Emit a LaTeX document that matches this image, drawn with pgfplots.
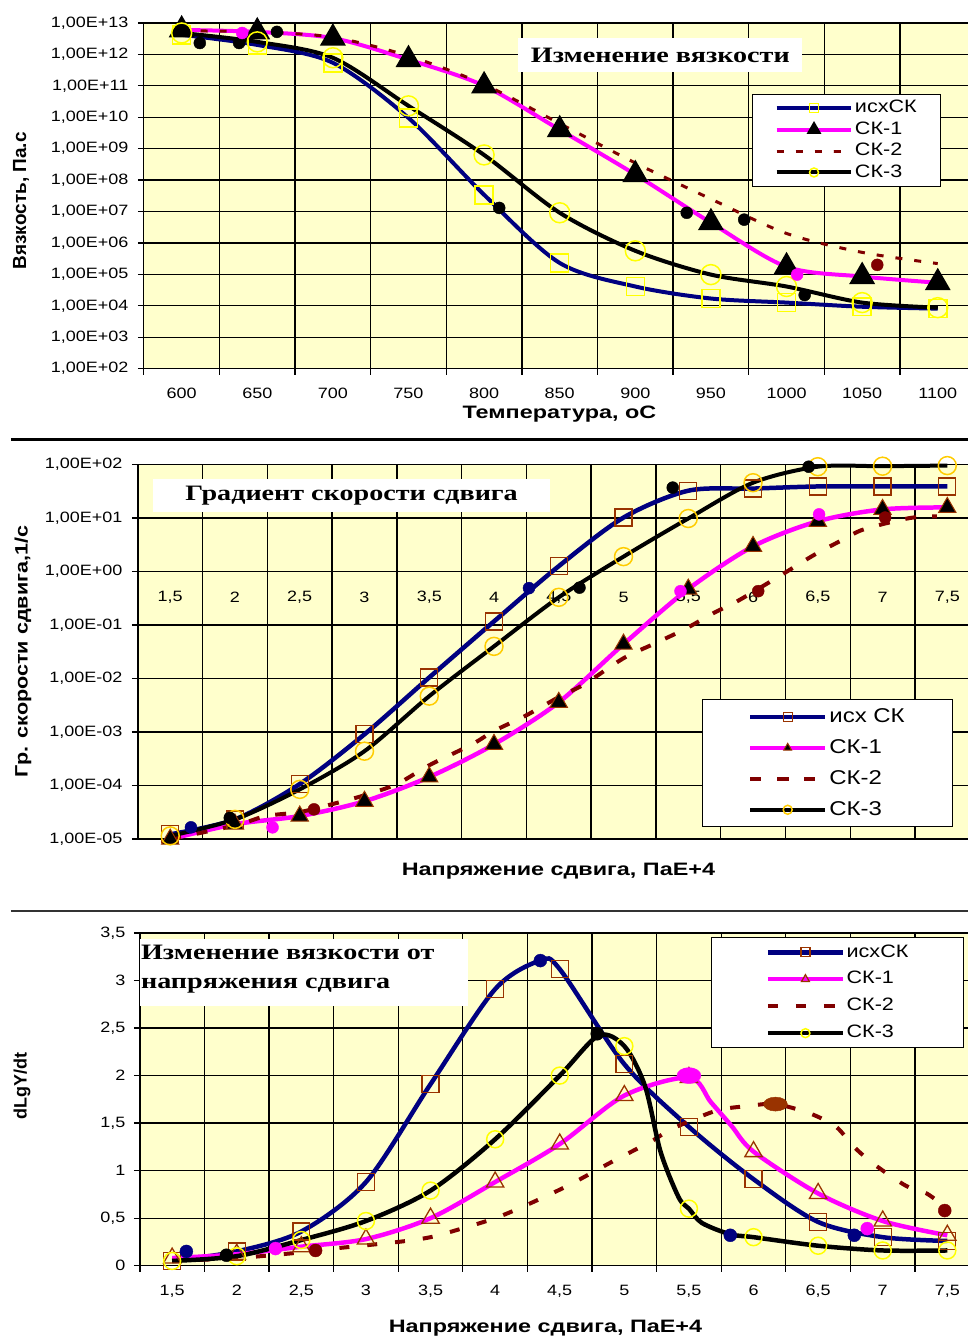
\documentclass[border=0pt]{standalone}
\usepackage{pgfplots}
\pgfplotsset{compat=1.18}
\usepackage{fontspec}
\setmainfont{Liberation Sans}[FakeStretch=1.2]
\newfontfamily\rotf{Liberation Sans}
\newfontfamily\rotm{Liberation Sans}[FakeStretch=1.2]
\newfontfamily\lblf{Liberation Sans}[FakeStretch=1.3]
\newfontfamily\ttlf{Liberation Serif}[FakeStretch=1.28]
\definecolor{bgY}{HTML}{FFFFCC}
\definecolor{navyC}{HTML}{000080}
\definecolor{magC}{HTML}{FF00FF}
\definecolor{brC}{HTML}{800000}
\definecolor{mkBr}{HTML}{993300}
\definecolor{mkY}{HTML}{FFFF00}
\definecolor{mkO}{HTML}{FFCC00}
\pgfplotsset{
  base/.style={
    scale only axis, clip=false,
    axis x line*=bottom, axis y line*=left,
    axis background/.style={fill=bgY},
    grid=major,
    major grid style={black, line width=1.3pt},
    axis line style={black, line width=1.3pt},
    major tick style={black, line width=1.3pt},
    tick align=outside, major tick length=6pt,
    yminorticks=false, xminorticks=false,
    tick label style={font=\fontsize{15}{15}\selectfont},
    legend cell align=left,
    legend image code/.code={\draw[mark repeat=2,mark phase=2] plot coordinates {(0pt,0pt) (37.5pt,0pt) (75pt,0pt)};},
    legend image post style={mark size=4.5pt},
  },
}
\begin{document}
\begin{tikzpicture}[x=1pt,y=1pt]
\fill[white] (0pt,0pt) rectangle (969pt,1340pt);
% ================= TOP PANEL =================
\begin{axis}[base, at={(144pt,971pt)}, anchor=south west, width=825pt, height=346pt,
  xmin=575, xmax=1120, ymode=log, ymin=1e2, ymax=1e13,
  xtick={575,625,675,725,775,825,875,925,975,1025,1075}, xticklabels={},
  extra x ticks={600,650,700,750,800,850,900,950,1000,1050,1100},
  extra x tick labels={600,650,700,750,800,850,900,950,1000,1050,1100},
  extra x tick style={grid=none, major tick length=0pt, tick label style={yshift=-16pt}},
  ytick={1e2,1e3,1e4,1e5,1e6,1e7,1e8,1e9,1e10,1e11,1e12,1e13},
  yticklabels={{1,00E+02},{1,00E+03},{1,00E+04},{1,00E+05},{1,00E+06},{1,00E+07},{1,00E+08},{1,00E+09},{1,00E+10},{1,00E+11},{1,00E+12},{1,00E+13}},
  yticklabel style={xshift=-6pt},
  legend style={at={(0.738,0.795)}, anchor=north west, draw=black, line width=1pt, fill=white,
    font=\fontsize{18}{18}\selectfont, inner xsep=22pt, inner ysep=4pt, row sep=2pt,
    nodes={inner sep=1.5pt, text height=13pt, text depth=3.5pt}},
]
\addplot[navyC, line width=4pt, smooth, mark=square, mark size=9pt, mark options={color=mkY, line width=1.5pt}]
 coordinates {(600,4.2e12) (650,2.0e12) (700,5.4e11) (750,9.5e9) (800,3.4e7) (850,2.3e5) (900,4.1e4) (950,1.7e4) (1000,1.26e4) (1050,9.3e3) (1100,8.1e3)};
\addlegendentry{исхСК}
\addplot[magC, line width=4pt, smooth, mark=triangle*, mark size=11pt, mark options={color=black}]
 coordinates {(600,6.0e12) (650,5.2e12) (700,3.3e12) (750,6.8e11) (800,1.0e11) (850,4.0e9) (900,1.5e8) (950,4.4e6) (1000,1.74e5) (1050,8.5e4) (1100,5.4e4)};
\addlegendentry{СК-1}
\addplot[brC, line width=3pt, smooth, dash pattern=on 7pt off 12pt]
 coordinates {(600,5.6e12) (650,5.2e12) (700,3.5e12) (750,8.9e11) (800,1.1e11) (850,6.3e9) (900,3.5e8) (950,2.5e7) (1000,2.0e6) (1050,5.0e5) (1100,2.2e5)};
\addlegendentry{СК-2}
\addplot[black, line width=4pt, smooth, mark=o, mark size=10pt, mark options={color=mkY, line width=1.5pt}]
 coordinates {(600,4.8e12) (650,2.5e12) (700,7.8e11) (750,2.3e10) (800,6.3e8) (850,9.1e6) (900,5.6e5) (950,9.8e4) (1000,4.1e4) (1050,1.26e4) (1100,8.7e3)};
\addlegendentry{СК-3}
\addplot[only marks, mark=*, mark size=6pt, black, forget plot]
 coordinates {(612,2.3e12) (638,2.3e12) (663,5.2e12) (810,1.3e7) (934,9.1e6) (972,5.5e6) (1012,2.2e4)};
\addplot[only marks, mark=*, mark size=6pt, magC, forget plot]
 coordinates {(640,4.8e12) (1007,9.8e4)};
\addplot[only marks, mark=*, mark size=6pt, brC, forget plot]
 coordinates {(1060,2.0e5)};
\end{axis}
% ================= MIDDLE PANEL =================
\begin{axis}[base, at={(138pt,500pt)}, anchor=south west, width=831pt, height=375pt,
  xmin=1.25, xmax=7.66, ymode=log, ymin=1e-5, ymax=1e2,
  xtick={1.25,1.75,2.25,2.75,3.25,3.75,4.25,4.75,5.25,5.75,6.25,6.75,7.25}, xticklabels={},
  xmajorticks=false,
  ytick={1e-5,1e-4,1e-3,1e-2,1e-1,1,1e1,1e2},
  yticklabels={{1,00E-05},{1,00E-04},{1,00E-03},{1,00E-02},{1,00E-01},{1,00E+00},{1,00E+01},{1,00E+02}},
  yticklabel style={xshift=-6pt},
  legend style={at={(0.679,0.373)}, anchor=north west, draw=black, line width=1pt, fill=white,
    font=\fontsize{20}{20}\selectfont, inner xsep=46pt, inner ysep=5.5pt, row sep=8pt,
    nodes={inner sep=2pt, text height=15pt, text depth=4pt}},
]
\addplot[navyC, line width=4.5pt, smooth, mark=square, mark size=8.5pt, mark options={color=mkBr, line width=1.3pt}]
 coordinates {(1.5,1.23e-5) (2,2.34e-5) (2.5,1.07e-4) (3,9.1e-4) (3.5,1.05e-2) (4,0.117) (4.5,1.26) (5,10.2) (5.5,32.4) (6,35.5) (6.5,38.9) (7,38.9) (7.5,38.9)};
\addlegendentry{исх СК}
\addplot[magC, line width=4.5pt, smooth, mark=triangle*, mark size=10pt, mark options={fill=black, draw=mkBr, line width=1pt}]
 coordinates {(1.5,1.0e-5) (2,1.9e-5) (2.5,2.7e-5) (3,5.1e-5) (3.5,1.45e-4) (4,5.9e-4) (4.5,3.6e-3) (5,4.4e-2) (5.5,0.47) (6,2.95) (6.5,8.7) (7,14.5) (7.5,15.8)};
\addlegendentry{СК-1}
\addplot[brC, line width=4pt, smooth, dash pattern=on 11pt off 16pt]
 coordinates {(1.5,1.0e-5) (2,1.8e-5) (2.24,2.7e-5) (2.5,3.2e-5) (2.75,4.5e-5) (3,6.6e-5) (3.25,1.07e-4) (3.5,2.4e-4) (3.83,5.9e-4) (4,1.05e-3) (4.24,2.0e-3) (4.5,4.5e-3) (4.7,7.9e-3) (5,2.4e-2) (5.23,4.4e-2) (5.47,8.3e-2) (5.7,0.17) (5.88,0.28) (6.2,0.81) (6.48,2.1) (6.7,4.0) (6.86,6.2) (7.21,10) (7.42,10.7)};
\addlegendentry{СК-2}
\addplot[black, line width=4pt, smooth, mark=o, mark size=9pt, mark options={color=mkO, line width=1.5pt}]
 coordinates {(1.5,1.15e-5) (2,2.34e-5) (2.5,8.5e-5) (3,4.4e-4) (3.5,4.7e-3) (4,4.0e-2) (4.5,0.33) (5,1.9) (5.5,9.8) (6,45.7) (6.5,91) (7,93) (7.5,95.5)};
\addlegendentry{СК-3}
\addplot[only marks, mark=*, mark size=6pt, navyC, forget plot] coordinates {(1.66,1.66e-5) (4.27,0.49)};
\addplot[only marks, mark=*, mark size=6pt, black, forget plot] coordinates {(1.96,2.5e-5) (4.66,0.5) (5.38,37) (6.43,91)};
\addplot[only marks, mark=*, mark size=6pt, magC, forget plot] coordinates {(2.29,1.66e-5) (5.44,0.43) (6.51,11.7)};
\addplot[only marks, mark=*, mark size=6pt, brC, forget plot] coordinates {(2.61,3.6e-5) (6.04,0.43) (7.02,10.2)};
\node[font=\fontsize{15}{15}\selectfont] at (axis cs:1.5,0.33) {1,5};
\node[font=\fontsize{15}{15}\selectfont] at (axis cs:2,0.33) {2};
\node[font=\fontsize{15}{15}\selectfont] at (axis cs:2.5,0.33) {2,5};
\node[font=\fontsize{15}{15}\selectfont] at (axis cs:3,0.33) {3};
\node[font=\fontsize{15}{15}\selectfont] at (axis cs:3.5,0.33) {3,5};
\node[font=\fontsize{15}{15}\selectfont] at (axis cs:4,0.33) {4};
\node[font=\fontsize{15}{15}\selectfont] at (axis cs:4.5,0.33) {4,5};
\node[font=\fontsize{15}{15}\selectfont] at (axis cs:5,0.33) {5};
\node[font=\fontsize{15}{15}\selectfont] at (axis cs:5.5,0.33) {5,5};
\node[font=\fontsize{15}{15}\selectfont] at (axis cs:6,0.33) {6};
\node[font=\fontsize{15}{15}\selectfont] at (axis cs:6.5,0.33) {6,5};
\node[font=\fontsize{15}{15}\selectfont] at (axis cs:7,0.33) {7};
\node[font=\fontsize{15}{15}\selectfont] at (axis cs:7.5,0.33) {7,5};
\end{axis}
% ================= BOTTOM PANEL =================
\begin{axis}[base, at={(140pt,73pt)}, anchor=south west, width=829pt, height=333pt,
  xmin=1.25, xmax=7.66, ymin=0, ymax=3.5,
  xtick={1.25,1.75,2.25,2.75,3.25,3.75,4.25,4.75,5.25,5.75,6.25,6.75,7.25}, xticklabels={},
  extra x ticks={1.5,2,2.5,3,3.5,4,4.5,5,5.5,6,6.5,7,7.5},
  extra x tick labels={{1,5},2,{2,5},3,{3,5},4,{4,5},5,{5,5},6,{6,5},7,{7,5}},
  extra x tick style={grid=none, major tick length=0pt, tick label style={yshift=-16pt}},
  ytick={0,0.5,1,1.5,2,2.5,3,3.5},
  yticklabels={0,{0,5},1,{1,5},2,{2,5},3,{3,5}},
  yticklabel style={xshift=-5pt},
  legend style={at={(0.69,0.988)}, anchor=north west, draw=black, line width=1pt, fill=white,
    font=\fontsize{18}{18}\selectfont, inner xsep=54pt, inner ysep=5pt, row sep=7.5pt,
    nodes={inner sep=1.5pt, text height=13pt, text depth=3.5pt}},
]
\addplot[navyC, line width=4.5pt, smooth, mark=square, mark size=8.5pt, mark options={color=mkBr, line width=1.3pt},
  mark indices={1,2,3,4,5,6,8,9,10,11,12,13,14}, forget plot]
 coordinates {(1.5,0.05) (2,0.15) (2.5,0.36) (3,0.88) (3.5,1.91) (4,2.91) (4.35,3.21) (4.5,3.12) (5,2.12) (5.5,1.46) (6,0.91) (6.5,0.46) (7,0.3) (7.5,0.26)};
\addlegendimage{navyC, line width=4.5pt, mark=square, mark options={color=mkBr, line width=1.3pt}}
\addlegendentry{исхСК}
\addplot[magC, line width=4.5pt, smooth, mark=triangle, mark size=10pt, mark options={color=mkBr, line width=1.3pt},
  mark indices={1,2,3,4,5,6,7,8,9,12,13,14,15}, forget plot]
 coordinates {(1.5,0.08) (2,0.12) (2.5,0.2) (3,0.28) (3.5,0.5) (4,0.88) (4.5,1.28) (5,1.79) (5.5,1.98) (5.67,1.72) (5.83,1.47) (6,1.2) (6.5,0.76) (7,0.47) (7.5,0.32)};
\addlegendimage{magC, line width=4.5pt, mark=triangle, mark options={color=mkBr, line width=1.3pt}}
\addlegendentry{СК-1}
\addplot[brC, line width=4pt, smooth, dash pattern=on 10pt off 18pt]
 coordinates {(1.5,0.05) (2,0.08) (2.5,0.14) (2.75,0.18) (3.25,0.25) (3.5,0.3) (3.74,0.39) (4,0.5) (4.23,0.63) (4.56,0.84) (4.9,1.09) (5.21,1.31) (5.37,1.44) (5.71,1.63) (5.96,1.68) (6.17,1.7) (6.44,1.6) (6.64,1.46) (6.77,1.26) (6.93,1.07) (7.18,0.84) (7.34,0.76) (7.5,0.6)};
\addlegendentry{СК-2}
\addplot[black, line width=4.5pt, smooth, mark=o, mark size=8.5pt, mark options={color=mkY, line width=1.5pt},
  mark indices={1,2,3,4,5,6,7,9,13,16,17,18,19}, forget plot]
 coordinates {(1.5,0.05) (2,0.1) (2.5,0.27) (3,0.47) (3.5,0.79) (4,1.33) (4.5,2.0) (4.8,2.42) (5,2.31) (5.16,1.89) (5.28,1.2) (5.42,0.72) (5.5,0.6) (5.6,0.45) (5.82,0.33) (6,0.3) (6.5,0.21) (7,0.16) (7.5,0.16)};
\addlegendimage{black, line width=4.5pt, mark=o, mark options={color=mkY, line width=1.5pt}}
\addlegendentry{СК-3}
\addplot[only marks, mark=*, mark size=6.5pt, navyC, forget plot] coordinates {(1.61,0.15) (4.35,3.21) (5.82,0.32) (6.78,0.32)};
\addplot[only marks, mark=*, mark size=6.5pt, black, forget plot] coordinates {(1.92,0.11) (4.79,2.44)};
\addplot[only marks, mark=*, mark size=6.5pt, magC, forget plot] coordinates {(2.3,0.18) (6.88,0.39)};
\addplot[only marks, mark=*, mark size=8pt, magC, mark options={xscale=1.5}, forget plot] coordinates {(5.5,2.0)};
\addplot[only marks, mark=*, mark size=6.5pt, brC, forget plot] coordinates {(2.61,0.16) (7.48,0.58)};
\addplot[only marks, mark=*, mark size=7pt, mkBr, mark options={xscale=1.7}, forget plot] coordinates {(6.17,1.7)};
\end{axis}
% ================= titles, labels, separators =================
\node[fill=white, minimum width=284pt, minimum height=34pt, inner sep=0pt,
  font=\ttlf\bfseries\fontsize{22}{22}\selectfont] at (661pt,1285pt) {Изменение вязкости};
\node[fill=white, minimum width=398pt, minimum height=33pt, inner sep=0pt,
  font=\ttlf\bfseries\fontsize{22}{22}\selectfont] at (352pt,843.5pt) {Градиент скорости сдвига};
\fill[white] (140pt,333pt) rectangle (468pt,400pt);
\node[anchor=north west, align=left, inner sep=0pt,
  font=\ttlf\bfseries\fontsize{22}{29}\selectfont] at (141pt,394pt) {Изменение вязкости от\\напряжения сдвига};
\node[rotate=90, font=\rotf\bfseries\fontsize{19}{19}\selectfont] at (21pt,1139pt) {Вязкость, Па.с};
\node[rotate=90, font=\rotm\bfseries\fontsize{18}{18}\selectfont] at (23pt,688pt) {Гр. скорости сдвига,1/с};
\node[rotate=90, font=\rotf\bfseries\fontsize{18}{18}\selectfont] at (22pt,253pt) {dLgY/dt};
\node[font=\lblf\bfseries\fontsize{18}{18}\selectfont] at (560pt,925pt) {Температура, оС};
\node[font=\lblf\bfseries\fontsize{18}{18}\selectfont] at (559pt,468pt) {Напряжение сдвига, ПаЕ+4};
\node[font=\lblf\bfseries\fontsize{18}{18}\selectfont] at (546pt,10pt) {Напряжение сдвига, ПаЕ+4};
\draw[black, line width=3pt] (11pt,900pt) -- (969pt,900pt);
\draw[black!80, line width=1.5pt] (11pt,428pt) -- (969pt,428pt);
\end{tikzpicture}
\end{document}
